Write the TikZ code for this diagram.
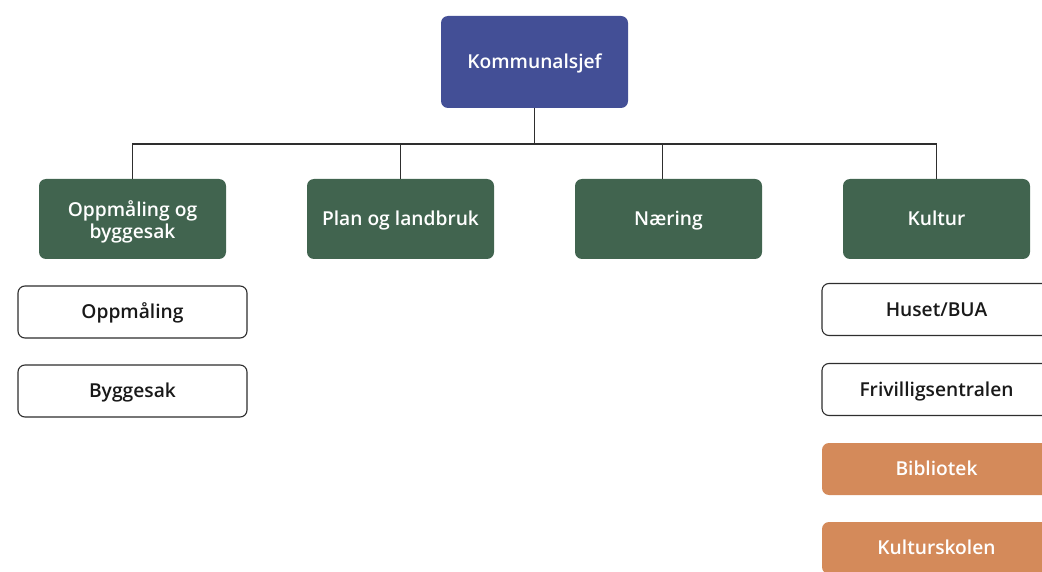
\documentclass[tikz,border=0pt]{standalone}
\usepackage{fontspec}
\setmainfont{Open Sans}[BoldFont={Open Sans Semibold}]
\usetikzlibrary{positioning}
\definecolor{kommBlue}{HTML}{434F96}
\definecolor{kommGreen}{HTML}{41644F}
\definecolor{kommOrange}{HTML}{D48A5A}
\definecolor{lineDark}{HTML}{2E2E2E}

\begin{document}
\begin{tikzpicture}[x=1pt, y=-1pt,
    boxtext/.style={font=\fontsize{19.2}{22}\selectfont\bfseries, align=center,
      text height=13.7pt, text depth=0pt},
    chefbox/.style={boxtext, fill=kommBlue, text=white, rounded corners=7pt,
      minimum width=187pt, minimum height=92pt},
    unitbox/.style={boxtext, fill=kommGreen, text=white, rounded corners=7pt,
      minimum width=187pt, minimum height=80pt},
    subbox/.style={boxtext, draw=lineDark, line width=1.1pt, fill=white, text=black!90,
      rounded corners=7pt, minimum width=229pt, minimum height=52pt},
    subfill/.style={boxtext, fill=kommOrange, text=white, rounded corners=7pt,
      minimum width=229pt, minimum height=52pt},
    conn/.style={draw=lineDark, line width=1.3pt}]
    \useasboundingbox (0,0) rectangle (1042,572);
    \clip (0,0) rectangle (1042,572);

    % leder
    \node[chefbox] (sjef) at (534.5, 62) {Kommunalsjef};

    % avdelinger
    \node[unitbox, text height=38.7pt] (oppbygg) at (132.5, 219) {Oppmåling og\\byggesak};
    \node[unitbox] (plan) at (400.5, 219) {Plan og landbruk};
    \node[unitbox] (naering) at (668.5, 219) {Næring};
    \node[unitbox] (kultur) at (936.5, 219) {Kultur};

    % linjer
    \coordinate (bar) at (534.5, 144);
    \draw[conn] (sjef.south) -- (bar);
    \draw[conn] (oppbygg.north) -- (oppbygg.north |- bar)
      -- (kultur.north |- bar) -- (kultur.north);
    \draw[conn] (plan.north) -- (plan.north |- bar);
    \draw[conn] ([xshift=-6pt]naering.north) -- ([xshift=-6pt]naering.north |- bar);

    % enheter under oppmåling og byggesak
    \node[subbox] (oppm) at (132.5, 312) {Oppmåling};
    \node[subbox] (bygg) at (132.5, 391) {Byggesak};

    % enheter under kultur
    \node[subbox] (huset) at (936.5, 309.5) {Huset/BUA};
    \node[subbox] (friv) at (936.5, 389.5) {Frivilligsentralen};
    \node[subfill] (bibl) at (936.5, 469) {Bibliotek};
    \node[subfill] (kskole) at (936.5, 548) {Kulturskolen};
  \end{tikzpicture}
\end{document}
